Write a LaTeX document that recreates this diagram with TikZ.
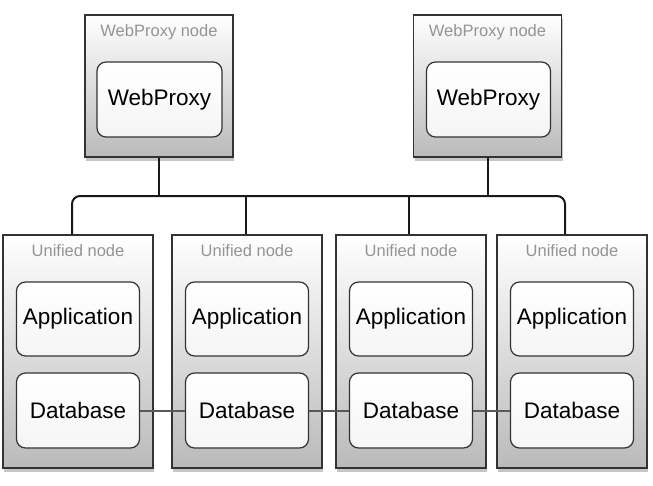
\documentclass[tikz,border=0pt]{standalone}
\usepackage{fontspec}
\setmainfont{Liberation Sans}
\usetikzlibrary{shadows}
\begin{document}
\begin{tikzpicture}[x=1pt,y=-1pt,
  outerbox/.style={draw=black!80, line width=1.2pt, top color=white, bottom color=black!27,
    drop shadow={shadow xshift=1pt, shadow yshift=-4pt, opacity=0.45}, inner sep=0pt},
  innerbox/.style={draw=black!80, line width=1.2pt, rounded corners=9pt, top color=white, bottom color=black!4,
    font=\fontsize{22.5}{24}\selectfont, inner sep=0pt},
  tag/.style={text=black!42, font=\fontsize{16.5}{18}\selectfont, inner sep=0pt},
  conn/.style={line width=2pt, black!90},
  dbline/.style={line width=2pt, black!65}]
\useasboundingbox (0,0) rectangle (653,485);
% WebProxy nodes
\node[outerbox, minimum width=148pt, minimum height=142pt] (wp1) at (159,86) {};
\node[outerbox, minimum width=148pt, minimum height=142pt] (wp2) at (487.5,86) {};
\node[tag] (wpl1) at (159,32) {WebProxy node};
\node[tag] (wpl2) at (487.5,32) {WebProxy node};
\node[innerbox, minimum width=125pt, minimum height=75pt] (wpi1) at (159.5,99.5) {WebProxy};
\node[innerbox, minimum width=124pt, minimum height=75pt] (wpi2) at (488.5,99.5) {WebProxy};
% Unified nodes
\foreach \i/\x in {1/78,2/247,3/411,4/572}{
  \node[outerbox, minimum width=150pt, minimum height=233pt] (u\i) at (\x,351.5) {};
  \node[tag] (ul\i) at (\x,251) {Unified node};
  \node[innerbox, minimum width=123pt, minimum height=74pt] (app\i) at (\x,319) {Application};
  \node[innerbox, minimum width=123pt, minimum height=75pt] (db\i) at (\x,410.5) {Database};
}
% bus
\coordinate (bus) at (0,196);
\draw[conn, rounded corners=8pt] ([xshift=-6pt]u1.north) |- ([xshift=-7pt]u4.north |- bus) -- ([xshift=-7pt]u4.north);
\draw[conn] ([xshift=-1pt]u2.north) -- ([xshift=-1pt]u2.north |- bus);
\draw[conn] ([xshift=-2pt]u3.north) -- ([xshift=-2pt]u3.north |- bus);
\draw[conn] (wp1.south) -- (wp1.south |- bus);
\draw[conn] (wp2.south) -- (wp2.south |- bus);
% database links
\draw[dbline] (db1.east) -- (db2.west);
\draw[dbline] (db2.east) -- (db3.west);
\draw[dbline] (db3.east) -- (db4.west);
\end{tikzpicture}
\end{document}
